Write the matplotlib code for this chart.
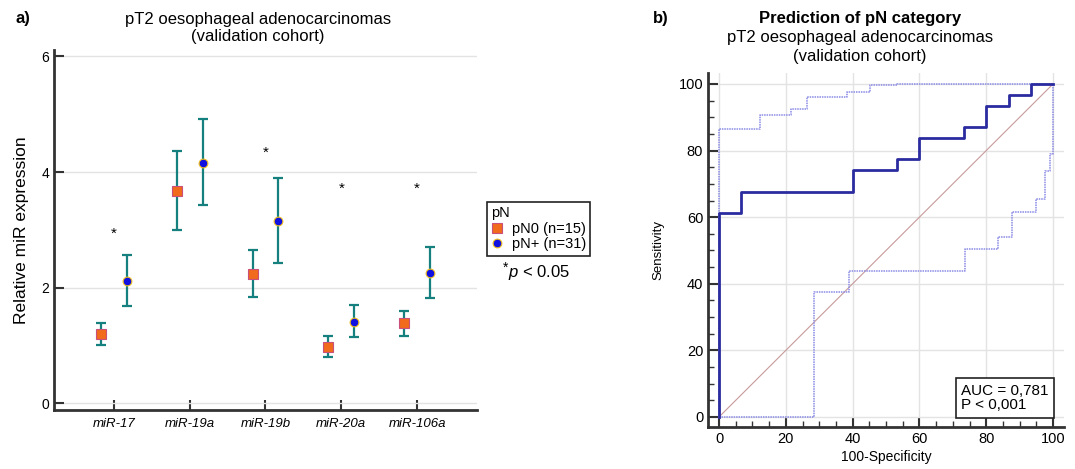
import numpy as np
import matplotlib
matplotlib.use('Agg')
import matplotlib.pyplot as plt
from matplotlib.ticker import MultipleLocator

plt.rcParams['font.family'] = 'Liberation Sans'
plt.rcParams['mathtext.fontset'] = 'custom'
plt.rcParams['mathtext.rm'] = 'Liberation Sans'
plt.rcParams['mathtext.it'] = 'Liberation Sans:italic'

# %% data, panel a
mirs = ['miR-17', 'miR-19a', 'miR-19b', 'miR-20a', 'miR-106a']
pn0_mean = [1.19, 3.68, 2.24, 0.98, 1.38]
pn0_low = [1.01, 3.00, 1.84, 0.80, 1.16]
pn0_high = [1.38, 4.37, 2.65, 1.16, 1.60]
pnp_mean = [2.12, 4.16, 3.15, 1.41, 2.25]
pnp_low = [1.68, 3.43, 2.42, 1.14, 1.82]
pnp_high = [2.56, 4.91, 3.89, 1.70, 2.70]
star_mirs = ['miR-17', 'miR-19b', 'miR-20a', 'miR-106a']
star_y = [2.96, 4.36, 3.73, 3.74]

# %% data, panel b (ROC corners: 100-specificity, sensitivity)
roc_x = [0, 0, 6.67, 40, 53.3, 60, 73.3, 80, 86.7, 93.3, 100]
roc_y = [0, 61.3, 67.7, 74.2, 77.4, 83.9, 87.1, 93.5, 96.8, 100, 100]
ci_up_x = [0, 0, 12.4, 21.5, 26.4, 38.2, 45.2, 53.2, 100]
ci_up_y = [0, 86.4, 90.7, 92.6, 96.2, 97.6, 99.7, 100, 100]
ci_lo_x = [0, 28.5, 39.0, 73.6, 83.4, 87.8, 94.9, 97.6, 99.1, 100]
ci_lo_y = [0, 37.5, 43.9, 50.4, 54.0, 61.5, 65.4, 74.0, 79.0, 100]

teal = '#15807e'
fig = plt.figure(figsize=(10.75, 4.69), dpi=100)

# %% panel a
ax = fig.add_axes([0.0502, 0.1258, 0.3935, 0.7676])
xpos = np.arange(len(mirs))
off = 0.17
m0 = np.array(pn0_mean)
mp = np.array(pnp_mean)
ax.errorbar(xpos - off, m0, yerr=[m0 - np.array(pn0_low), np.array(pn0_high) - m0],
            fmt='none', ecolor=teal, elinewidth=1.6, capsize=3.8, capthick=1.6, zorder=2)
ax.errorbar(xpos + off, mp, yerr=[mp - np.array(pnp_low), np.array(pnp_high) - mp],
            fmt='none', ecolor=teal, elinewidth=1.6, capsize=3.8, capthick=1.6, zorder=2)
h0, = ax.plot(xpos - off, m0, 's', color='#f26a1b', mec='#c8507a', mew=0.8, ms=7,
              linestyle='none', label='pN0 (n=15)', zorder=3)
h1, = ax.plot(xpos + off, mp, 'o', color='#1010e0', mec='#f0c020', mew=0.8, ms=6.3,
              linestyle='none', label='pN+ (n=31)', zorder=3)
for name, yv in zip(star_mirs, star_y):
    ax.text(mirs.index(name), yv, '*', ha='center', va='center_baseline', fontsize=11)

ax.set_xlim(-0.79, len(mirs) - 1 + 0.79)
ax.set_ylim(-0.116, 6.11)
ax.set_yticks([0, 2, 4, 6])
ax.set_xticks(xpos)
ax.set_xticklabels(mirs, fontstyle='italic', fontsize=9.5)
ax.tick_params(axis='y', direction='in', length=7, width=1.5, labelsize=10, color='#333333')
ax.tick_params(axis='x', direction='in', length=7, width=1.5, color='#333333', pad=6)
ax.grid(axis='y', color='#e3e3e3', linewidth=1)
ax.set_axisbelow(True)
for s in ['top', 'right']:
    ax.spines[s].set_visible(False)
for s in ['left', 'bottom']:
    ax.spines[s].set_linewidth(2)
    ax.spines[s].set_color('#333333')
ax.set_ylabel('Relative miR expression', fontsize=12.5, labelpad=9)
fig.text(258 / 1075, 1 - 28 / 469, 'pT2 oesophageal adenocarcinomas\n(validation cohort)',
         fontsize=12, ha='center', va='center', linespacing=1.2)
fig.text(0.014, 0.96, 'a)', fontsize=12, fontweight='bold', va='center')

leg = fig.legend(handles=[h0, h1], title='pN', loc='upper left',
                 bbox_to_anchor=(487 / 1075, 1 - 202 / 469), borderaxespad=0,
                 fontsize=10.5, title_fontsize=10.5, alignment='left', fancybox=False,
                 edgecolor='#222222', handlelength=0.8, handletextpad=0.6,
                 borderpad=0.3, labelspacing=0.1, framealpha=1)
leg.get_frame().set_linewidth(1.2)
fig.text(508 / 1075, 1 - 273 / 469, r'$\mathit{p}$ < 0.05', fontsize=12,
         ha='left', va='center')
fig.text(503 / 1075, 1 - 268 / 469, '*', fontsize=10, ha='left', va='center')

# %% panel b
bx = fig.add_axes([0.6586, 0.0889, 0.3312, 0.7548])
bx.plot([0, 100], [0, 100], color='#c89a9a', linewidth=0.8, zorder=2)
bx.step(ci_up_x, ci_up_y, where='post', color='#8a8ae6', linewidth=1.1,
        linestyle=(0, (1, 0.6)), zorder=3)
bx.step(ci_lo_x, ci_lo_y, where='post', color='#8a8ae6', linewidth=1.1,
        linestyle=(0, (1, 0.6)), zorder=3)
bx.step(roc_x, roc_y, where='post', color='#2b2ba0', linewidth=2, zorder=4)
bx.set_xlim(-3.3, 103.3)
bx.set_ylim(-3.1, 103.2)
bx.xaxis.set_major_locator(MultipleLocator(20))
bx.yaxis.set_major_locator(MultipleLocator(20))
bx.xaxis.set_minor_locator(MultipleLocator(5))
bx.yaxis.set_minor_locator(MultipleLocator(5))
bx.tick_params(which='major', direction='in', length=7, width=1.5, labelsize=10.5, color='#333333')
bx.tick_params(which='minor', direction='in', length=4, width=1, color='#333333')
bx.grid(which='major', color='#e3e3e3', linewidth=1)
bx.set_axisbelow(True)
for s in ['top', 'right']:
    bx.spines[s].set_visible(False)
for s in ['left', 'bottom']:
    bx.spines[s].set_linewidth(2)
    bx.spines[s].set_color('#333333')
bx.set_xlabel('100-Specificity', fontsize=10, labelpad=3)
bx.set_ylabel('Sensitivity', fontsize=9.5, labelpad=10)
bx.text(0.712, 0.083, 'AUC = 0,781\nP < 0,001', transform=bx.transAxes, fontsize=11,
        va='center', ha='left', linespacing=1.05,
        bbox=dict(boxstyle='square,pad=0.35', facecolor='white', edgecolor='#222222',
                  linewidth=1.2), zorder=5)
fig.text(860 / 1075, 1 - 18 / 469, 'Prediction of pN category', fontsize=12,
         fontweight='bold', ha='center', va='center')
fig.text(860 / 1075, 1 - 47 / 469, 'pT2 oesophageal adenocarcinomas\n(validation cohort)',
         fontsize=12, ha='center', va='center', linespacing=1.3)
fig.text(0.607, 0.96, 'b)', fontsize=12, fontweight='bold', va='center')

fig.savefig('out.png', dpi=100)
